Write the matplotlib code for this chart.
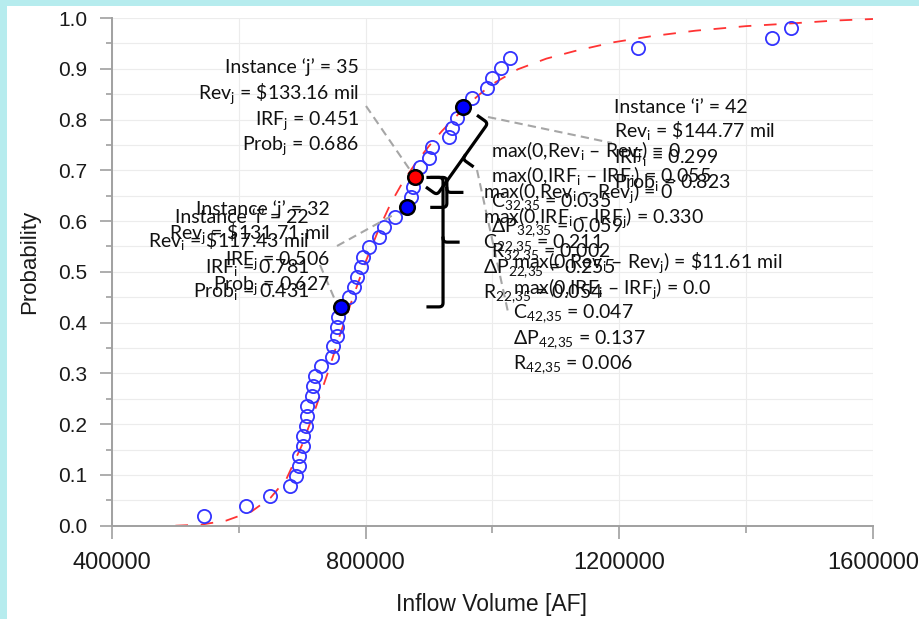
import numpy as np
import matplotlib
matplotlib.use("Agg")
import matplotlib.pyplot as plt
from matplotlib.lines import Line2D
from matplotlib.patches import Rectangle
from matplotlib.transforms import IdentityTransform

W, H = 919, 619

# sorted inflow volumes [AF] and their plotting-position probabilities
inflow = [545000, 610800, 649000, 681200, 689600, 694400, 694900, 701200, 701500, 705400,
          707000, 708000, 714900, 716500, 719600, 729100, 746400, 748000, 754300, 755300,
          755900, 761300, 774000, 781000, 787000, 793000, 796000, 806000, 821000, 829000,
          847000, 864700, 872000, 875000, 877800, 885700, 900400, 904100, 931400, 935700,
          943400, 954000, 967200, 990900, 998700, 1012900, 1027600, 1229000, 1441300, 1470300]
prob = [0.020, 0.039, 0.059, 0.078, 0.098, 0.118, 0.137, 0.157, 0.176, 0.196,
        0.216, 0.235, 0.255, 0.275, 0.294, 0.314, 0.333, 0.353, 0.373, 0.392,
        0.412, 0.431, 0.451, 0.471, 0.490, 0.510, 0.529, 0.549, 0.569, 0.588,
        0.608, 0.627, 0.647, 0.667, 0.686, 0.706, 0.725, 0.745, 0.765, 0.784,
        0.804, 0.824, 0.843, 0.863, 0.882, 0.902, 0.922, 0.941, 0.961, 0.980]

# fitted distribution (red dashed)
fit_x = [500000, 540000, 580000, 620000, 650000, 675000, 700000, 720000, 740000, 760000,
         780000, 800000, 820000, 840000, 860000, 880000, 900000, 920000, 940000, 960000,
         980000, 1000000, 1040000, 1085000, 1130000, 1190000, 1250000, 1320000, 1400000,
         1480000, 1540000, 1600000]
fit_y = [0.000, 0.002, 0.010, 0.028, 0.055, 0.092, 0.160, 0.228, 0.300, 0.378,
         0.450, 0.520, 0.582, 0.636, 0.680, 0.716, 0.748, 0.777, 0.803, 0.828,
         0.850, 0.870, 0.899, 0.920, 0.935, 0.952, 0.964, 0.975, 0.984,
         0.990, 0.995, 0.998]

# highlighted instances (1-based)
picked = [22, 32, 35, 42]
picked_colors = ["#0000ff", "#0000ff", "#ff0000", "#0000ff"]

plt.rcParams["mathtext.fontset"] = "custom"
plt.rcParams["mathtext.rm"] = "Lato"
plt.rcParams["mathtext.it"] = "Lato:italic"
plt.rcParams["mathtext.bf"] = "Lato:bold"
plt.rcParams["font.family"] = ["Liberation Sans", "DejaVu Sans"]

fig = plt.figure(figsize=(W / 100, H / 100), dpi=100)
fig.patch.set_facecolor("#b6ecee")
fig.add_artist(Rectangle((7 / W, 0), 1, 1 - 6 / H, transform=fig.transFigure,
                         facecolor="white", edgecolor="none", zorder=-10))

ax = fig.add_axes([112 / W, 1 - 525.7 / H, (873 - 112) / W, (525.7 - 18) / H])
ax.set_xlim(400000, 1600000)
ax.set_ylim(0, 1)

ax.set_xticks([400000, 800000, 1200000, 1600000])
ax.set_xticks([600000, 1000000, 1400000], minor=True)
ax.set_xticklabels(["400000", "800000", "1200000", "1600000"])
ax.set_yticks(np.arange(0, 1.01, 0.1))
ax.set_yticks(np.arange(0.05, 1.0, 0.1), minor=True)
ax.set_yticklabels([f"{v:.1f}" for v in np.arange(0, 1.01, 0.1)])
ax.tick_params(axis="x", which="major", length=9, width=1.2, color="#a0a0a0",
               labelsize=17, pad=10, labelcolor="#1a1a1a")
ax.tick_params(axis="x", which="minor", length=5, width=1.2, color="#a0a0a0")
ax.tick_params(axis="y", which="major", length=9, width=1.2, color="#a0a0a0",
               labelsize=15, pad=9, labelcolor="#1a1a1a")
ax.tick_params(axis="y", which="minor", length=4.5, width=1.2, color="#a0a0a0")
ax.grid(which="both", color="#ececec", lw=0.8)
ax.set_axisbelow(True)
for s in ["top", "right"]:
    ax.spines[s].set_visible(False)
for s in ["left", "bottom"]:
    ax.spines[s].set_color("#a0a0a0")
    ax.spines[s].set_linewidth(1.4)

fig.text(30 / W, 1 - 262 / H, "Probability", rotation=90, ha="center", va="center",
         fontsize=16, color="#1a1a1a")
fig.text(491 / W, 1 - 604 / H, "Inflow Volume [AF]", ha="center", va="center",
         fontsize=16.5, color="#1a1a1a")

ax.plot(fit_x, fit_y, color="#ff3333", lw=1.3, dashes=(7, 7), zorder=2)
ax.plot(inflow, prob, "o", ms=9.5, mfc="none", mec="#3333ff", mew=1.3, zorder=3)
for k, c in zip(picked, picked_colors):
    ax.plot(inflow[k - 1], prob[k - 1], "o", ms=10.5, mfc=c, mec="black", mew=1.8, zorder=4)


def px_line(p0, p1):
    fig.add_artist(Line2D([p0[0], p1[0]], [H - p0[1], H - p1[1]], transform=IdentityTransform(),
                          color="#a6a6a6", lw=1.5, dashes=(4, 2.5), zorder=3))


def corner(a, c, b, k=6):
    t = np.linspace(0, 1, k)[:, None]
    return (1 - t) ** 2 * np.array(a) + 2 * (1 - t) * t * np.array(c) + t ** 2 * np.array(b)


def brace(p0, p1, w, r=4, lw=2.3):
    d0 = ax.transData.transform(p0)
    d1 = ax.transData.transform(p1)
    u = d1 - d0
    L = np.hypot(*u)
    u = u / L
    n = np.array([-u[1], u[0]])
    body = np.vstack([[[0, -w]], corner([0, -r], [0, 0], [r, 0]),
                      corner([L - r, 0], [L, 0], [L, -r]), [[L, -w]]])
    tip = np.vstack([corner([L / 2 - r, 0], [L / 2, 0], [L / 2, r]), [[L / 2, w]]])
    for seg in (body, tip):
        xy = d0 + np.outer(seg[:, 0], u) + np.outer(seg[:, 1], n)
        fig.add_artist(Line2D(xy[:, 0], xy[:, 1], transform=IdentityTransform(),
                              color="black", lw=lw, zorder=6))


# leader lines
px_line((366, 106), (410, 170))
px_line((337, 246), (395, 214))
px_line((320, 265), (335, 300))
px_line((488, 117), (612, 143))
px_line((477, 170), (508, 312))

# braces
brace((922000, prob[34]), (922000, prob[21]), 15)
brace((928000, prob[34]), (928000, prob[31]), 15)
brace((993000, 0.793), (912500, 0.6515), 12)

ann_font = ["Lato", "DejaVu Sans"]


def label(xp, yp, s, ha="left"):
    fig.text(xp / W, 1 - yp / H, s, ha=ha, va="baseline", fontsize=14,
             family=ann_font, color="#111111", zorder=8)


def block(xp, ys, lines, ha):
    for yp, s in zip(ys, lines):
        label(xp, yp, s, ha)


block(359, [73.3, 99.3, 125, 150],
      ["Instance \u2018j\u2019 = 35", r"Rev$_\mathrm{j}$ = \$133.16 mil",
       r"IRF$_\mathrm{j}$ = 0.451", r"Prob$_\mathrm{j}$ = 0.686"], "right")
block(330, [215, 239.3, 265, 290],
      ["Instance \u2018j\u2019 = 32", r"Rev$_\mathrm{j}$ = \$131.71 mil",
       r"IRF$_\mathrm{j}$ = 0.506", r"Prob$_\mathrm{j}$ = 0.627"], "right")
block(309, [222.7, 246.7, 272.7, 297.3],
      ["Instance \u2018i\u2019 = 22", r"Rev$_\mathrm{i}$ = \$117.43 mil",
       r"IRF$_\mathrm{i}$ = 0.781", r"Prob$_\mathrm{i}$ = 0.431"], "right")
block(614, [112.7, 137.3, 162.7, 188.3],
      ["Instance \u2018i\u2019 = 42", r"Rev$_\mathrm{i}$ = \$144.77 mil",
       r"IRF$_\mathrm{i}$ = 0.299", r"Prob$_\mathrm{i}$ = 0.823"], "left")

block(491, [156.7, 181.7, 207, 231.7, 256.7],
      [r"max(0,Rev$_\mathrm{i}$ \u2013 Rev$_\mathrm{j}$) = 0".replace("\\u2013", "\u2013"),
       r"max(0,IRF$_\mathrm{i}$ \u2013 IRF$_\mathrm{j}$) = 0.055".replace("\\u2013", "\u2013"),
       r"C$_\mathrm{32{,}35}$ = 0.035", "\u0394" + r"P$_\mathrm{32{,}35}$ = 0.059",
       r"R$_\mathrm{32{,}35}$ = 0.002"], "left")
block(483, [198.3, 223.3, 248.3, 273.3, 298.3],
      [r"max(0,Rev$_\mathrm{i}$ \u2013 Rev$_\mathrm{j}$) = 0".replace("\\u2013", "\u2013"),
       r"max(0,IRF$_\mathrm{i}$ \u2013 IRF$_\mathrm{j}$) = 0.330".replace("\\u2013", "\u2013"),
       r"C$_\mathrm{22{,}35}$ = 0.211", "\u0394" + r"P$_\mathrm{22{,}35}$ = 0.255",
       r"R$_\mathrm{22{,}35}$ = 0.054"], "left")
block(513, [268.3, 294, 318.3, 344, 369.3],
      [r"max(0,Rev$_\mathrm{i}$ \u2013 Rev$_\mathrm{j}$) = \$11.61 mil".replace("\\u2013", "\u2013"),
       r"max(0,IRF$_\mathrm{i}$ \u2013 IRF$_\mathrm{j}$) = 0.0".replace("\\u2013", "\u2013"),
       r"C$_\mathrm{42{,}35}$ = 0.047", "\u0394" + r"P$_\mathrm{42{,}35}$ = 0.137",
       r"R$_\mathrm{42{,}35}$ = 0.006"], "left")

fig.savefig("out.png", dpi=100)
